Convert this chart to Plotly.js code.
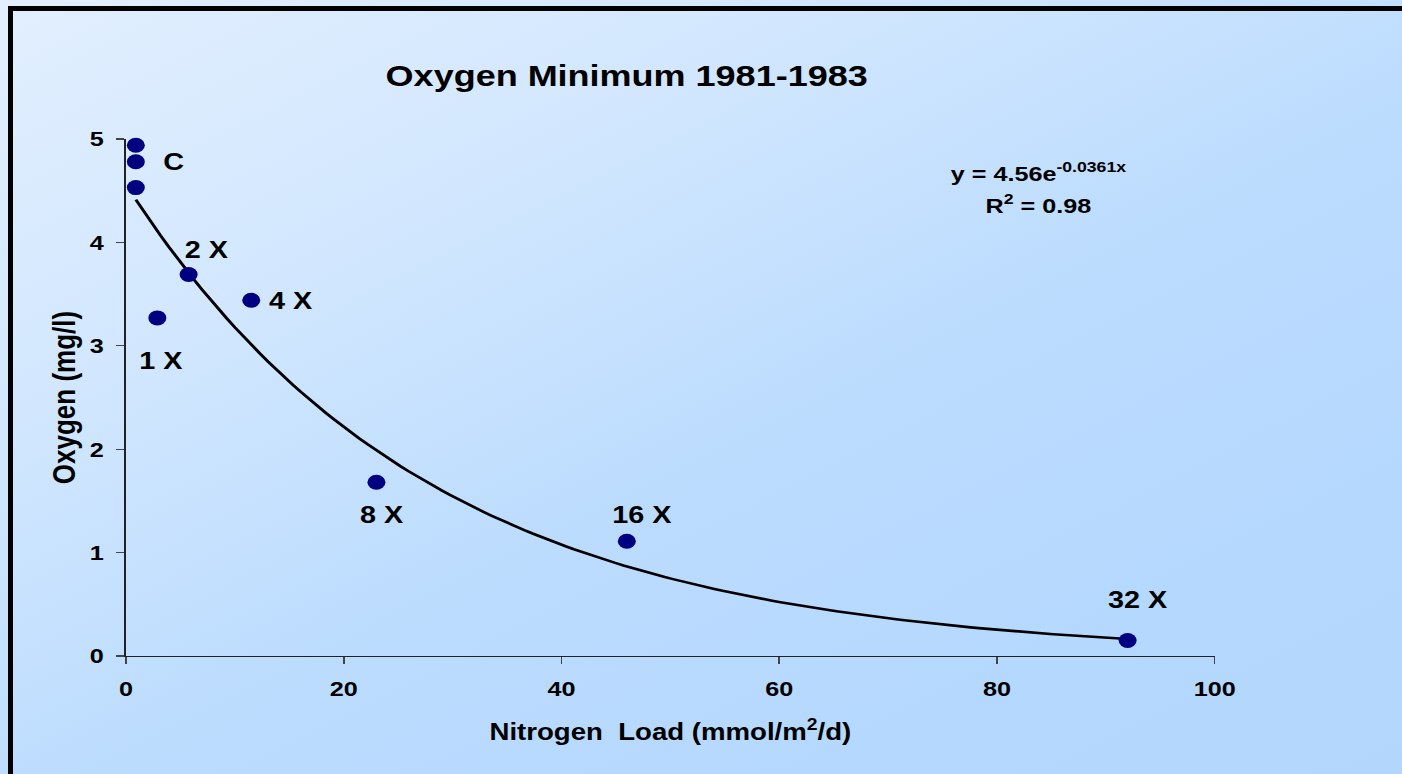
<!DOCTYPE html>
<html><head><meta charset="utf-8">
<script src="https://cdn.plot.ly/plotly-3.0.1.min.js"></script>
<style>
html,body{margin:0;padding:0;width:1402px;height:774px;overflow:hidden;}
#bg{position:absolute;left:0;top:0;width:1402px;height:774px;background:linear-gradient(153deg,#e2effe 0%,#d2e7fe 28%,#bcdcfe 55%,#b5d8fe 80%,#b3d6fd 100%);}
#frame{position:absolute;left:8px;top:6px;width:1500px;height:900px;border-left:5px solid #000;border-top:5px solid #000;}
#chart{position:absolute;left:0;top:0;width:1168px;height:774px;transform:scaleX(1.2003);transform-origin:0 0;}
</style></head>
<body><div id="bg"></div><div id="frame"></div><div id="chart"></div>
<script>
// ---- data ----
const treatment   = ['C', 'C', 'C', '1 X', '2 X', '4 X', '8 X', '16 X', '32 X'];
const nitrogenLoad = [0.9, 0.9, 0.9, 2.875, 5.75, 11.5, 23, 46, 92];
const oxygenMin    = [4.94, 4.78, 4.53, 3.27, 3.69, 3.44, 1.68, 1.11, 0.15];
// exponential trendline shown on the chart: y = a * exp(b x)
const fitA = 4.56;
const fitB = -0.0361;
const fitR2 = 0.98;
// which point each treatment label is attached to
const labelIndex = [1, 3, 4, 5, 6, 7, 8];
const xTicks = [0, 20, 40, 60, 80, 100];
const yTicks = [0, 1, 2, 3, 4, 5];

// label offsets (pixels, before horizontal stretch)
const labelOffsets = {
  'C':   [31, 0],
  '1 X': [3, -43],
  '2 X': [15, 25],
  '4 X': [33, 0],
  '8 X': [4, -32],
  '16 X': [12.5, 27],
  '32 X': [8, 41]
};

const xMin = Math.min(...nitrogenLoad), xMax = Math.max(...nitrogenLoad);
const fitX = [], fitY = [];
for (let i = 0; i <= 120; i++) {
  const x = xMin + (xMax - xMin) * i / 120;
  fitX.push(x); fitY.push(fitA * Math.exp(fitB * x));
}

const FONT = '"Liberation Sans", Arial, Helvetica, sans-serif';

const traces = [
  {x: fitX, y: fitY, type: 'scatter', mode: 'lines', line: {color: '#000', width: 2.6}, hoverinfo: 'skip', showlegend: false, cliponaxis: false},
  {x: nitrogenLoad, y: oxygenMin, text: treatment, type: 'scatter', mode: 'markers',
   marker: {color: '#000080', size: 15, line: {width: 0}}, showlegend: false, cliponaxis: false}
];

const annotations = labelIndex.map((idx) => {
  const t = treatment[idx];
  return {x: nitrogenLoad[idx], y: oxygenMin[idx], xref: 'x', yref: 'y', text: t, showarrow: false,
    xanchor: 'center', yanchor: 'middle', xshift: labelOffsets[t][0], yshift: labelOffsets[t][1],
    font: {family: FONT, size: 24, color: '#000', weight: 'bold'}};
});
annotations.push({x: 83.8, y: 4.68, xref: 'x', yref: 'y', showarrow: false, xanchor: 'center', yanchor: 'middle',
  text: 'y = ' + fitA.toFixed(2) + 'e<sup>' + fitB + 'x</sup>', font: {family: FONT, size: 21, color: '#000', weight: 'bold'}});
annotations.push({x: 83.8, y: 4.37, xref: 'x', yref: 'y', showarrow: false, xanchor: 'center', yanchor: 'middle',
  text: 'R<sup>2</sup> = ' + fitR2.toFixed(2), font: {family: FONT, size: 21, color: '#000', weight: 'bold'}});

const layout = {
  width: 1168, height: 774,
  margin: {l: 105, r: 156.3, t: 139, b: 117.5, pad: 0},
  paper_bgcolor: 'rgba(0,0,0,0)', plot_bgcolor: 'rgba(0,0,0,0)',
  font: {family: FONT, color: '#000'},
  title: {text: 'Oxygen Minimum 1981-1983', xref: 'container', yref: 'container', x: 0.447, y: 0.902,
    xanchor: 'center', yanchor: 'middle', font: {family: FONT, size: 30, color: '#000', weight: 'bold'}},
  xaxis: {range: [0, 100], tickvals: xTicks, ticktext: xTicks.map(String), showgrid: false, zeroline: false,
    showline: true, linecolor: '#222', linewidth: 1.3, ticks: 'outside', ticklen: 7, tickwidth: 1.3, tickcolor: '#444',
    tickfont: {family: FONT, size: 21, color: '#000', weight: 'bold'}, ticklabelstandoff: 7,
    title: {text: 'Nitrogen\u00a0\u00a0Load (mmol/m<sup>2</sup>/d)', standoff: 24, font: {family: FONT, size: 23, color: '#000', weight: 'bold'}}},
  yaxis: {range: [0, 5], tickvals: yTicks, ticktext: yTicks.map(String), showgrid: false, zeroline: false,
    showline: true, linecolor: '#222', linewidth: 1.3, ticks: 'outside', ticklen: 7, tickwidth: 1.3, tickcolor: '#444',
    tickfont: {family: FONT, size: 21, color: '#000', weight: 'bold'}, ticklabelstandoff: 6,
    title: {text: 'Oxygen (mg/l)', standoff: 4, font: {family: FONT, size: 26, color: '#000', weight: 'bold'}}},
  annotations: annotations,
  showlegend: false
};

Plotly.newPlot('chart', traces, layout, {displayModeBar: false, staticPlot: true});
</script>
</body></html>
